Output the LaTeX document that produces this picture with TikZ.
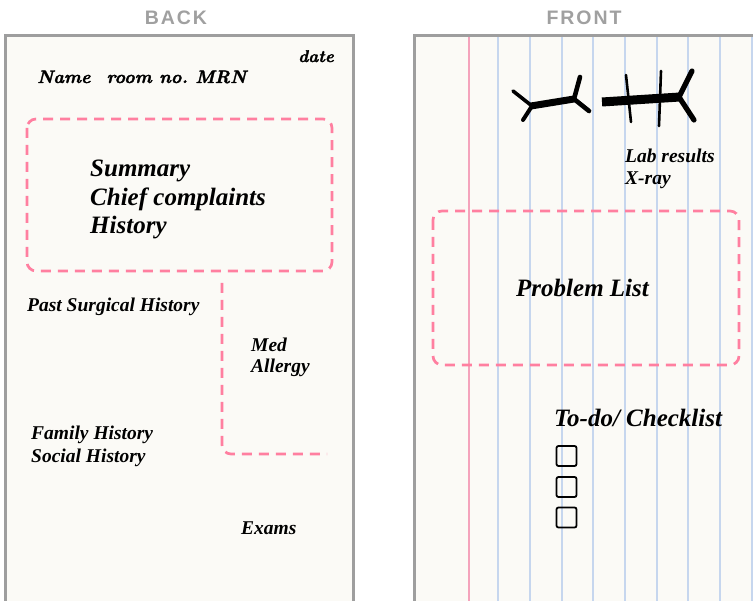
\documentclass[tikz,border=0pt]{standalone}
\usepackage{fontspec}
\newfontfamily\lblfont{Liberation Serif}
\newfontfamily\headfont[LetterSpace=10]{Liberation Sans}
\newfontfamily\handfont[FakeBold=1.8]{lmroman10-bolditalic.otf}
\definecolor{cardfill}{HTML}{FBFAF6}
\definecolor{cardedge}{HTML}{9E9E9E}
\definecolor{dashpink}{HTML}{FF7FA0}
\definecolor{marginred}{HTML}{F4A3BC}
\definecolor{ruleblue}{HTML}{C6D6EE}
\definecolor{headgray}{HTML}{A0A0A0}
\tikzset{
  card/.style={draw=cardedge, line width=3pt, fill=cardfill},
  zone/.style={draw=dashpink, line width=2.7pt, dash pattern=on 10pt off 7pt, rounded corners=9pt},
  head/.style={font=\headfont\bfseries\fontsize{19.5}{22}\selectfont, text=headgray, inner sep=0pt, anchor=base},
  big/.style={font=\lblfont\bfseries\itshape\fontsize{25}{28}\selectfont, inner sep=0pt, anchor=base west},
  small/.style={font=\lblfont\bfseries\itshape\fontsize{19.5}{22}\selectfont, inner sep=0pt, anchor=base west},
  hand/.style={font=\handfont\fontsize{18}{21}\selectfont, inner sep=0pt, anchor=base west},
  tickbox/.style={draw=black, line width=1.8pt, rounded corners=2pt, minimum width=20pt, minimum height=20pt, inner sep=0pt},
  bone/.style={line width=#1, line cap=round},
}
\begin{document}
\begin{tikzpicture}[x=1pt, y=-1pt]
\useasboundingbox (0,0) rectangle (753,601);
\fill[white] (0,0) rectangle (753,601);
\begin{scope}
\clip (0,0) rectangle (753,601);

% ---- back side of the card ----
\node[head] (backtitle) at (176,25) {BACK};
\draw[card] (5,36) rectangle (353,640);
\node[hand, font=\handfont\fontsize{17}{20}\selectfont] (date) at (298,62) {date};
\node[hand] (name) at (37,83) {Name\hspace{16pt}room no.\ MRN};
\draw[zone] (27,119) rectangle (332,271);
\node[big] (summary) at (90,177) {Summary};
\node[big] (chief) at (90,206) {Chief complaints};
\node[big] (history) at (90,234) {History};
\draw[zone] (222,283) -- (222,454) -- (327,454);
\node[small] (psh) at (27,312) {Past Surgical History};
\node[small] (med) at (251,352) {Med};
\node[small] (allergy) at (251,373) {Allergy};
\node[small] (family) at (31,440) {Family History};
\node[small] (social) at (31,463) {Social History};
\node[small] (exams) at (241,535) {Exams};

% ---- front side of the card ----
\node[head] (fronttitle) at (584,25) {FRONT};
\draw[card] (414,36) rectangle (800,640);
\foreach \x in {498,530,562,593,625,657,688,720,752}
  \draw[ruleblue, line width=1.1pt] (\x,37.5) -- (\x,601);
\draw[marginred, line width=1.7pt] (469,37.5) -- (469,601);

% lab value skeletons
\draw[bone=7pt, line cap=butt] (531,106) -- (574,99);
\draw[bone=3.6pt] (532,106) -- (513,91);
\draw[bone=4pt] (532,106) -- (523,120);
\draw[bone=4.6pt] (574,99) -- (580,77);
\draw[bone=4.6pt] (574,99) -- (589,111);
\draw[bone=9pt, line cap=butt] (602,102) -- (680,97);
\draw[bone=2.6pt] (626,75) -- (631,122);
\draw[bone=2.6pt] (661,71) -- (659,126);
\draw[bone=5.2pt] (679,97) -- (692,71);
\draw[bone=5.2pt] (679,97) -- (694,120);

\node[small] (lab) at (625,163) {Lab results};
\node[small] (xray) at (625,185) {X-ray};
\draw[zone] (433,211) rectangle (739,365);
\node[big] (problems) at (516,297) {Problem List};
\node[big] (todo) at (554,427) {To-do/ Checklist};
\node[tickbox] (box1) at (566.5,456) {};
\node[tickbox] (box2) at (566.5,487) {};
\node[tickbox] (box3) at (566.5,517.5) {};
\end{scope}
\end{tikzpicture}
\end{document}
